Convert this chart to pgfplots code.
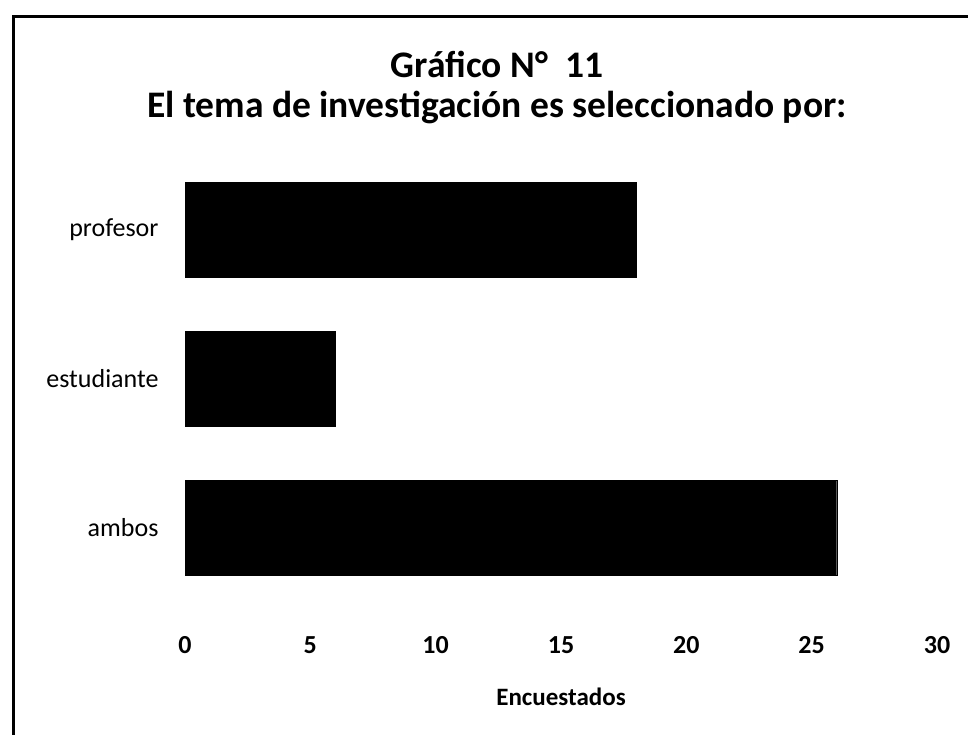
\documentclass[border=0pt]{standalone}
\usepackage{fontspec}
\setmainfont{Carlito}
\usepackage{pgfplots}
\pgfplotsset{compat=1.18}
\begin{document}
\begin{tikzpicture}
\useasboundingbox (0pt,0pt) rectangle (968pt,-734pt);
\draw[line width=3pt] (13pt,-740pt) -- (13pt,-16pt) -- (975pt,-16pt);
\node[font=\bfseries\fontsize{37.5}{42}\selectfont, anchor=base] at (497pt,-77pt) {Gráfico N°\ \ 11};
\node[font=\bfseries\fontsize{37.5}{42}\selectfont, anchor=base] at (497pt,-117pt) {El tema de investigación es seleccionado por:};
\begin{axis}[
  at={(185pt,-602.5pt)}, anchor=south west,
  scale only axis, width=752pt, height=447pt,
  xmin=0, xmax=30, ymin=-0.5, ymax=2.5,
  xbar, bar width=0.64,
  xtick={0,5,10,15,20,25,30},
  ytick={0,1,2}, yticklabels={ambos,estudiante,profesor},
  axis line style={draw=none},
  major tick length=0pt,
  xticklabel style={font=\bfseries\fontsize{26}{29}\selectfont, anchor=center, yshift=-42.5pt},
  yticklabel style={font=\fontsize{26}{30}\selectfont, anchor=east, xshift=-23pt},
  /pgf/number format/assume math mode=true,
  xlabel={Encuestados},
  xlabel style={font=\bfseries\fontsize{25}{28}\selectfont, at={(axis description cs:0.5,0)}, anchor=center, yshift=-94.5pt},
]
\addplot[fill=black, draw=black] coordinates {(26,0) (6,1) (18,2)};
\end{axis}
\end{tikzpicture}
\end{document}
